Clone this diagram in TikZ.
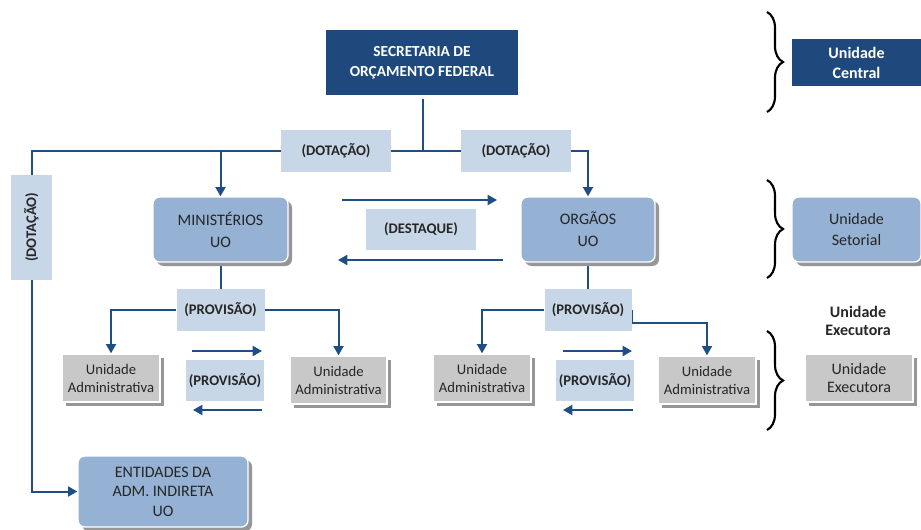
\documentclass[tikz,border=0pt]{standalone}
\usepackage{fontspec}
\setmainfont{Carlito}
\usepackage{xcolor}
\usepackage{tikz}
\usetikzlibrary{shadows, backgrounds, positioning, arrows.meta}
\usetikzlibrary{decorations.pathreplacing}

\definecolor{dkblue}{HTML}{1F497D}
\definecolor{arrowblue}{HTML}{1F4E84}
\definecolor{midblue}{HTML}{95B1D3}
\definecolor{lightblue}{HTML}{C8D7E8}
\definecolor{boxgray}{HTML}{C8C8C8}
\definecolor{shadegray}{HTML}{969696}
\definecolor{txtgray}{HTML}{262626}

\tikzset{sz/.style 2 args={minimum width=#1*0.75pt, minimum height=#2*0.75pt, inner sep=0pt, align=center}}

\begin{document}
\begin{tikzpicture}
          [x=0.75pt, y=-0.75pt,
           central/.style={fill=dkblue, text=white, font=\bfseries\fontsize{11.5}{15}\selectfont},
           uobox/.style={fill=midblue, draw=white, line width=1pt, rounded corners=5pt, text=txtgray,
                         drop shadow={shadow xshift=3pt, shadow yshift=-3pt, fill=shadegray, opacity=1}},
           admbox/.style={fill=boxgray, draw=white, line width=1pt, text=txtgray,
                         drop shadow={shadow xshift=3pt, shadow yshift=-3pt, fill=shadegray, opacity=1}},
           flowlbl/.style={fill=lightblue, text=txtgray, font=\bfseries\fontsize{11}{13}\selectfont},
           link/.style={draw=arrowblue, line width=1.5pt},
           flow/.style={link, -{Triangle[length=7pt, width=7.5pt]}},
           bracket/.style={decorate, decoration={brace, amplitude=12pt, aspect=0.5}, line width=1.6pt}]
            \useasboundingbox (0,0) rectangle (921,529);
            % unidade central
            \node (Sof) [central, sz={192}{65}] at (422,62.5) {SECRETARIA DE\\ORÇAMENTO FEDERAL};
            \node (Central) [central, sz={129}{47}, font=\bfseries\fontsize{12}{15}\selectfont] at (856.5,62.5) {Unidade\\Central};
            % dotacoes
            \node (DotMin) [flowlbl, sz={110}{42}] at (336,151) {(DOTAÇÃO)};
            \node (DotOrg) [flowlbl, sz={110}{42}] at (516,151) {(DOTAÇÃO)};
            \node (DotInd) [flowlbl, sz={41}{105}] at (31.5,227.5) {\rotatebox{90}{(DOTAÇÃO)}};
            % unidades orcamentarias
            \node (Min) [uobox, sz={135}{65}, font=\fontsize{12}{16.5}\selectfont] at (220.5,229.5) {MINISTÉRIOS\\UO};
            \node (Org) [uobox, sz={134}{65}, font=\fontsize{12}{16.5}\selectfont] at (588,229.5) {ORGÃOS\\UO};
            \node (Setorial) [uobox, sz={129}{65}, font=\fontsize{12}{15.75}\selectfont] at (856.5,229.5) {Unidade\\Setorial};
            \node (Destaque) [flowlbl, sz={110}{41}] at (421,229.5) {(DESTAQUE)};
            \node (Ent) [uobox, sz={170}{71}, font=\fontsize{12}{14.6}\selectfont] at (163,491.5) {ENTIDADES DA\\ADM. INDIRETA\\UO};
            % provisoes
            \node (ProvMin) [flowlbl, sz={88}{42}] at (220.5,310) {(PROVISÃO)};
            \node (ProvMinUA) [flowlbl, sz={78}{41}] at (225,380.5) {(PROVISÃO)};
            \node (ProvOrg) [flowlbl, sz={87}{42}] at (588,310) {(PROVISÃO)};
            \node (ProvOrgUA) [flowlbl, sz={78}{41}] at (595,380.5) {(PROVISÃO)};
            % unidades administrativas
            \node (UaA) [admbox, sz={98}{48}, font=\fontsize{11}{13.5}\selectfont] at (111,378) {Unidade\\Administrativa};
            \node (UaB) [admbox, sz={97}{48}, font=\fontsize{11}{13.5}\selectfont] at (338.5,380) {Unidade\\Administrativa};
            \node (UaC) [admbox, sz={98}{48}, font=\fontsize{11}{13.5}\selectfont] at (482,378) {Unidade\\Administrativa};
            \node (UaD) [admbox, sz={98}{48}, font=\fontsize{11}{13.5}\selectfont] at (707,380) {Unidade\\Administrativa};
            \node (ExeTitle) [sz={110}{36}, text=txtgray, font=\bfseries\fontsize{12}{13.5}\selectfont] at (858,321) {Unidade\\Executora};
            \node (Executora) [admbox, sz={108}{48}, font=\fontsize{12}{13.5}\selectfont] at (859,378) {Unidade\\Executora};
            % pontas livres das setas
            \coordinate (SofOut) at (423,99);
            \coordinate (DestIn) at (342,200);
            \coordinate (DestOut) at (497,200);
            \coordinate (DestBackIn) at (503,260);
            \coordinate (DestBackOut) at (338,260);
            \coordinate (PmIn) at (192,351);
            \coordinate (PmOut) at (262,351);
            \coordinate (PmBackIn) at (262,410);
            \coordinate (PmBackOut) at (193,410);
            \coordinate (PoIn) at (563,351);
            \coordinate (PoOut) at (632,351);
            \coordinate (PoBackIn) at (633,410);
            \coordinate (PoBackOut) at (563,410);
            \begin{scope}[on background layer]
              \draw[link] (SofOut) -- (SofOut |- DotMin.center);
              \draw[flow] (DotInd.north) |- (DotOrg.east) -| (Org.north);
              \draw[flow] (Min.north |- DotMin.center) -- (Min.north);
              \draw[flow] (DotInd.south) |- (Ent.west);
              \draw[link] (Min.south) -- (ProvMin.north);
              \draw[flow] (ProvMin.west) -| (UaA.north);
              \draw[flow] (ProvMin.east) -| (UaB.north);
              \draw[link] (Org.south) -- (ProvOrg.north);
              \draw[flow] (ProvOrg.west) -| (UaC.north);
              \draw[flow] (ProvOrg.east) -- ++(0,13) -| (UaD.north);
            \end{scope}
            \draw[flow] (DestIn) -- (DestOut);
            \draw[flow] (DestBackIn) -- (DestBackOut);
            \draw[flow] (PmIn) -- (PmOut);
            \draw[flow] (PmBackIn) -- (PmBackOut);
            \draw[flow] (PoIn) -- (PoOut);
            \draw[flow] (PoBackIn) -- (PoBackOut);
            % chaves
            \draw[bracket] (767,12) -- (767,112);
            \draw[bracket] (767,180) -- (767,278);
            \draw[bracket] (767,331) -- (767,430);
        \end{tikzpicture}
\end{document}
